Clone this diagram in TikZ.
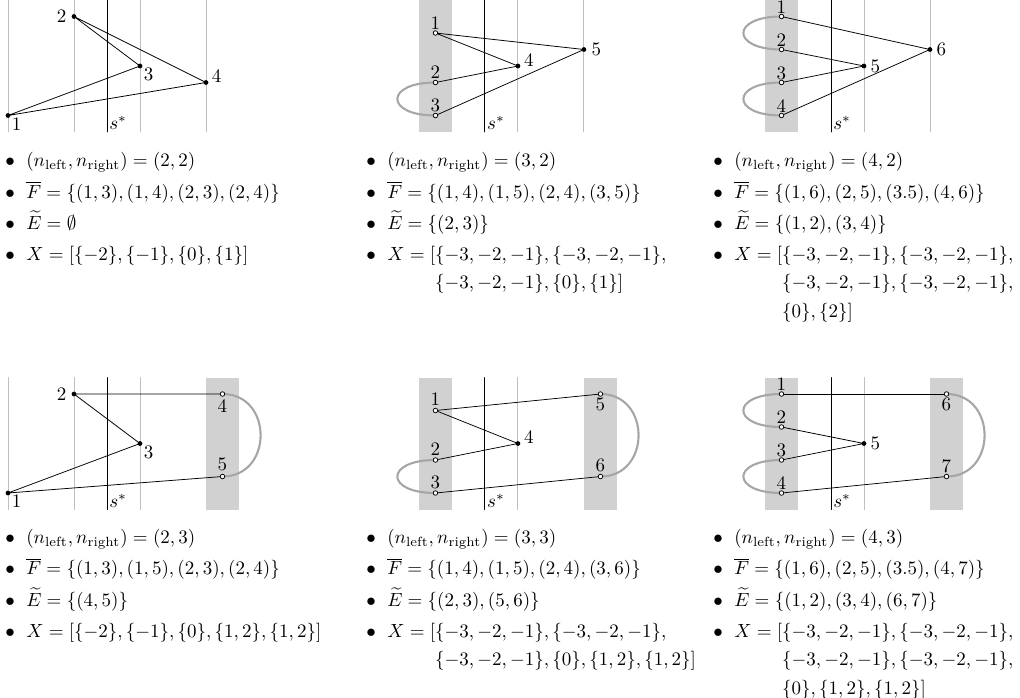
\documentclass[tikz,border=0pt]{standalone}
\usepackage{amsmath,amssymb}
\usetikzlibrary{calc}
\renewcommand{\arraystretch}{1.36}
% bullet list under each panel
\newcommand{\plist}[4]{\begin{tabular}[t]{@{}c@{\hspace{6pt}}l@{}}
$\bullet$ & $(n_{\text{left}},n_{\text{right}})=#1$\\
$\bullet$ & $\overline{F}=#2$\\
$\bullet$ & $\widetilde{E}=#3$\\
$\bullet$ & $X=#4$
\end{tabular}}
\newcommand{\wrapX}[1]{[\begin{aligned}[t]#1]\end{aligned}}
\tikzset{
guide/.style={black!25,line width=0.5pt},
cut/.style={black,line width=0.5pt},
band/.style={fill=black!18},
loope/.style={black!35,line width=1.1pt},
opendot/.style={fill=white,draw=black,line width=0.4pt}
}

\begin{document}
\begin{tikzpicture}[x=1.22cm,y=1.22cm,line join=round,line cap=round]
\useasboundingbox (0,0) rectangle (15.455,-10.561);
% ---------- panel a
\begin{scope}[shift={(1.621,-2)},name prefix=a-]
\foreach \c in {-1.5,-0.5,0.5,1.5} \draw[guide] (\c,0)--(\c,2);
\draw[cut] (0,0) coordinate (sb)--(0,2);
\node[anchor=south west,inner sep=1pt] (sl) at (sb) {$s^*$};
\foreach \x/\y/\t in {-1.5/0.25/1,-0.5/1.75/2,0.5/1/3,1.5/0.75/4}
\coordinate (v\t) at (\x,\y);
\draw (v1)--(v3)--(v2)--(v4)--(v1);
\foreach \t/\g in {1/-45,2/180,3/-45,4/30}
\fill (v\t) circle(1.25pt) node[shift={(\g:6.5pt)}] (l\t) {$\t$};
\end{scope}
% ---------- panel b
\begin{scope}[shift={(7.348,-2)},name prefix=b-]
\fill[band] (-1,0) rectangle (-0.5,2);
\foreach \c in {0.5,1.5} \draw[guide] (\c,0)--(\c,2);
\draw[cut] (0,0) coordinate (sb)--(0,2);
\node[anchor=south west,inner sep=1pt] (sl) at (sb) {$s^*$};
\foreach \x/\y/\t in {-0.75/1.5/1,-0.75/0.75/2,-0.75/0.25/3,0.5/1/4,1.5/1.25/5}
\coordinate (v\t) at (\x,\y);
\draw[loope] (v2) .. controls +(-0.77,0) and +(-0.77,0) .. (v3);
\draw (v2)--(v4)--(v1)--(v5)--(v3);
\foreach \t in {1,2,3}
\filldraw[opendot] (v\t) circle(1.2pt) node[shift={(90:5.2pt)}] (l\t) {$\t$};
\foreach \t/\g in {4/29,5/0}
\fill (v\t) circle(1.25pt) node[shift={(\g:6.5pt)}] (l\t) {$\t$};
\end{scope}
% ---------- panel c
\begin{scope}[shift={(12.591,-2)},name prefix=c-]
\fill[band] (-1,0) rectangle (-0.5,2);
\foreach \c in {0.5,1.5} \draw[guide] (\c,0)--(\c,2);
\draw[cut] (0,0) coordinate (sb)--(0,2);
\node[anchor=south west,inner sep=1pt] (sl) at (sb) {$s^*$};
\foreach \x/\y/\t in {-0.75/1.75/1,-0.75/1.25/2,-0.75/0.75/3,-0.75/0.25/4,0.5/1/5,1.5/1.25/6}
\coordinate (v\t) at (\x,\y);
\draw[loope] (v1) .. controls +(-0.77,0) and +(-0.77,0) .. (v2);
\draw[loope] (v3) .. controls +(-0.77,0) and +(-0.77,0) .. (v4);
\draw (v2)--(v5)--(v3);
\draw (v1)--(v6)--(v4);
\foreach \t in {1,2,3,4}
\filldraw[opendot] (v\t) circle(1.2pt) node[shift={(90:4.8pt)}] (l\t) {$\t$};
\foreach \t in {5,6}
\fill (v\t) circle(1.25pt) node[shift={(0:6pt)}] (l\t) {$\t$};
\end{scope}
% ---------- panel d
\begin{scope}[shift={(1.621,-7.72)},name prefix=d-]
\fill[band] (1.5,0) rectangle (2,2);
\foreach \c in {-1.5,-0.5,0.5} \draw[guide] (\c,0)--(\c,2);
\draw[cut] (0,0) coordinate (sb)--(0,2);
\node[anchor=south west,inner sep=1pt] (sl) at (sb) {$s^*$};
\foreach \x/\y/\t in {-1.5/0.25/1,-0.5/1.75/2,0.5/1/3,1.75/1.75/4,1.75/0.5/5}
\coordinate (v\t) at (\x,\y);
\draw[loope] (v4) .. controls +(0.77,0) and +(0.77,0) .. (v5);
\draw (v5)--(v1)--(v3)--(v2)--(v4);
\foreach \t/\g in {1/-45,2/180,3/-45}
\fill (v\t) circle(1.25pt) node[shift={(\g:6.5pt)}] (l\t) {$\t$};
\foreach \t/\g in {4/-90,5/90}
\filldraw[opendot] (v\t) circle(1.2pt) node[shift={(\g:6.3pt)}] (l\t) {$\t$};
\end{scope}
% ---------- panel e
\begin{scope}[shift={(7.348,-7.72)},name prefix=e-]
\fill[band] (-1,0) rectangle (-0.5,2);
\fill[band] (1.5,0) rectangle (2,2);
\draw[guide] (0.5,0)--(0.5,2);
\draw[cut] (0,0) coordinate (sb)--(0,2);
\node[anchor=south west,inner sep=1pt] (sl) at (sb) {$s^*$};
\foreach \x/\y/\t in {-0.75/1.5/1,-0.75/0.75/2,-0.75/0.25/3,0.5/1/4,1.75/1.75/5,1.75/0.5/6}
\coordinate (v\t) at (\x,\y);
\draw[loope] (v2) .. controls +(-0.77,0) and +(-0.77,0) .. (v3);
\draw[loope] (v5) .. controls +(0.77,0) and +(0.77,0) .. (v6);
\draw (v2)--(v4)--(v1)--(v5);
\draw (v3)--(v6);
\foreach \t/\g in {1/90,2/90,3/90,5/-90,6/90}
\filldraw[opendot] (v\t) circle(1.2pt) node[shift={(\g:5.6pt)}] (l\t) {$\t$};
\fill (v4) circle(1.25pt) node[shift={(29:6.5pt)}] (l4) {$4$};
\end{scope}
% ---------- panel f
\begin{scope}[shift={(12.591,-7.72)},name prefix=f-]
\fill[band] (-1,0) rectangle (-0.5,2);
\fill[band] (1.5,0) rectangle (2,2);
\draw[guide] (0.5,0)--(0.5,2);
\draw[cut] (0,0) coordinate (sb)--(0,2);
\node[anchor=south west,inner sep=1pt] (sl) at (sb) {$s^*$};
\foreach \x/\y/\t in {-0.75/1.75/1,-0.75/1.25/2,-0.75/0.75/3,-0.75/0.25/4,0.5/1/5,1.75/1.75/6,1.75/0.5/7}
\coordinate (v\t) at (\x,\y);
\draw[loope] (v1) .. controls +(-0.77,0) and +(-0.77,0) .. (v2);
\draw[loope] (v3) .. controls +(-0.77,0) and +(-0.77,0) .. (v4);
\draw[loope] (v6) .. controls +(0.77,0) and +(0.77,0) .. (v7);
\draw (v1)--(v6);
\draw (v2)--(v5)--(v3);
\draw (v4)--(v7);
\foreach \t/\g in {1/90,2/90,3/90,4/90,6/-90,7/90}
\filldraw[opendot] (v\t) circle(1.2pt) node[shift={(\g:5.2pt)}] (l\t) {$\t$};
\fill (v5) circle(1.25pt) node[shift={(0:6pt)}] (l5) {$5$};
\end{scope}
% ---------- lists
\node[anchor=base west,inner sep=0pt] (ta) at (0.076,-2.530)
{\plist{(2,2)}{\{(1,3),(1,4),(2,3),(2,4)\}}{\emptyset}{[\{-2\},\{-1\},\{0\},\{1\}]}};
\node[anchor=base west,inner sep=0pt] (tb) at (5.545,-2.530)
{\plist{(3,2)}{\{(1,4),(1,5),(2,4),(3,5)\}}{\{(2,3)\}}
{\wrapX{&\{-3,-2,-1\},\{-3,-2,-1\},\\&\{-3,-2,-1\},\{0\},\{1\}}}};
\node[anchor=base west,inner sep=0pt] (tc) at (10.803,-2.530)
{\plist{(4,2)}{\{(1,6),(2,5),(3.5),(4,6)\}}{\{(1,2),(3,4)\}}
{\wrapX{&\{-3,-2,-1\},\{-3,-2,-1\},\\&\{-3,-2,-1\},\{-3,-2,-1\},\\&\{0\},\{2\}}}};
\node[anchor=base west,inner sep=0pt] (td) at (0.076,-8.242)
{\plist{(2,3)}{\{(1,3),(1,5),(2,3),(2,4)\}}{\{(4,5)\}}{[\{-2\},\{-1\},\{0\},\{1,2\},\{1,2\}]}};
\node[anchor=base west,inner sep=0pt] (te) at (5.545,-8.242)
{\plist{(3,3)}{\{(1,4),(1,5),(2,4),(3,6)\}}{\{(2,3),(5,6)\}}
{\wrapX{&\{-3,-2,-1\},\{-3,-2,-1\},\\&\{-3,-2,-1\},\{0\},\{1,2\},\{1,2\}}}};
\node[anchor=base west,inner sep=0pt] (tf) at (10.803,-8.242)
{\plist{(4,3)}{\{(1,6),(2,5),(3.5),(4,7)\}}{\{(1,2),(3,4),(6,7)\}}
{\wrapX{&\{-3,-2,-1\},\{-3,-2,-1\},\\&\{-3,-2,-1\},\{-3,-2,-1\},\\&\{0\},\{1,2\},\{1,2\}}}};
\end{tikzpicture}
\end{document}
